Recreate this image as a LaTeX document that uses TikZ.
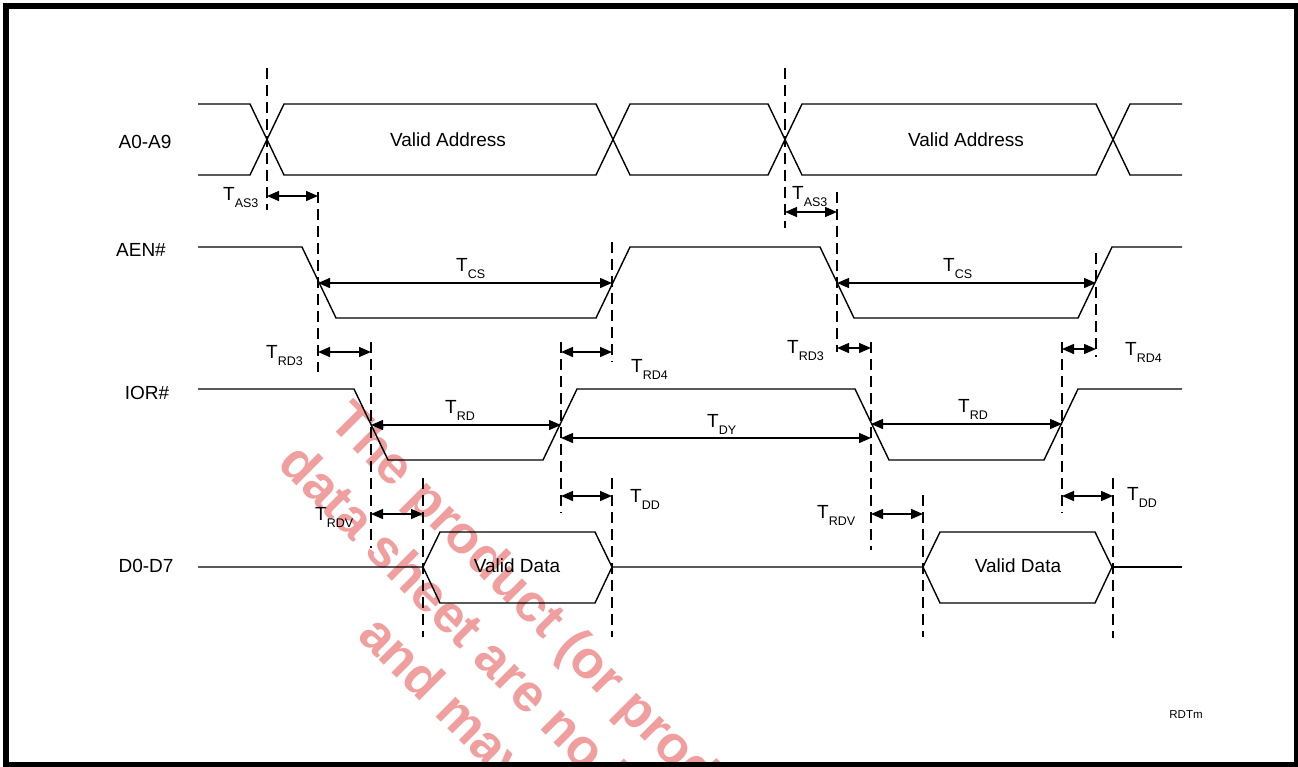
\documentclass[tikz,border=0pt]{standalone}
\usepackage{fontspec}
\setmainfont{Liberation Sans}
\usetikzlibrary{arrows.meta}
\definecolor{stamp}{RGB}{240,158,158}
\tikzset{wave/.style={draw=black, line width=1.4pt},
    guide/.style={draw=black, line width=1.3pt, dash pattern=on 11pt off 6pt},
    span/.style={line width=1.4pt, {Triangle[length=12pt,width=10pt]}-{Triangle[length=12pt,width=10pt]}},
    sig/.style={font=\fontsize{19}{19}\selectfont, inner sep=0pt},
    tlab/.style={anchor=base west, font=\fontsize{19}{19}\selectfont, inner sep=0pt},
    stampline/.style={font=\fontsize{53}{53}\selectfont\bfseries, text=stamp, rotate=-45, anchor=base west, inner sep=0pt}}
\newcommand{\tsub}[1]{T\raisebox{-7pt}{\fontsize{12.5}{12.5}\selectfont #1}}

\begin{document}
\begin{tikzpicture}[x=1pt, y=-1pt]
    \useasboundingbox (0,0) rectangle (1298,766);
    % watermark
    \begin{scope}
        \clip (0,0) rectangle (1298,766);
        \node[stampline] (wm1) at (327,423) {The product (or produc};
        \node[stampline] (wm2) at (276,465) {data sheet are no l};
        \node[stampline] (wm3) at (356,637) {and may};
    \end{scope}
    % signals
    \node[sig] (addr) at (145,142) {A0-A9};
    \node[sig] (aen) at (141,250) {AEN\#};
    \node[sig] (ior) at (147,393) {IOR\#};
    \node[sig] (data) at (146,566) {D0-D7};
    \draw[wave] (198,104) -- (250,104) -- (284,175) -- (596,175) -- (630,104) -- (768,104)
        -- (802,175) -- (1096,175) -- (1130,104) -- (1182,104);
    \draw[wave] (198,175) -- (250,175) -- (284,104) -- (596,104) -- (630,175) -- (768,175)
        -- (802,104) -- (1096,104) -- (1130,175) -- (1182,175);
    \draw[wave] (198,247) -- (302,247) -- (336,318) -- (596,318) -- (630,247) -- (820,247)
        -- (854,318) -- (1078,318) -- (1112,247) -- (1182,247);
    \draw[wave] (198,389) -- (354,389) -- (388,460) -- (543,460) -- (577,389) -- (855,389)
        -- (889,460) -- (1044,460) -- (1078,389) -- (1182,389);
    \draw[wave] (198,567) -- (423,567) -- (440,532) -- (595,532) -- (612,567) -- (595,603)
        -- (440,603) -- (423,567);
    \draw[wave] (612,567) -- (923,567) -- (940,532) -- (1095,532) -- (1112,567) -- (1095,603)
        -- (940,603) -- (923,567);
    \draw[wave] (1112,567) -- (1182,567);
    \node[sig] (va1) at (448,140) {Valid Address};
    \node[sig] (va2) at (966,140) {Valid Address};
    \node[sig] (vd1) at (517,566) {Valid Data};
    \node[sig] (vd2) at (1018,566) {Valid Data};
    % timing guides
    \foreach \x/\a/\b in {267/68/210, 318/192/372, 371/342/548, 561/342/513, 612/242/362,
        612/478/637, 423/478/637, 785/68/228, 837/192/352, 871/342/550, 1062/342/513,
        1096/253/357, 1113/478/638, 923/495/637}
        \draw[guide] (\x,\a) -- (\x,\b);
    % timing spans
    \draw[span] (267,196) -- (318,196);
    \draw[span] (785,212) -- (837,212);
    \draw[span] (318,283) -- (612,283);
    \draw[span] (837,283) -- (1096,283);
    \draw[span] (318,352) -- (371,352);
    \draw[span] (561,352) -- (612,352);
    \draw[span] (837,348) -- (871,348);
    \draw[span] (1062,349) -- (1096,349);
    \draw[span] (371,425) -- (561,425);
    \draw[span] (871,424) -- (1062,424);
    \draw[span] (561,438) -- (871,438);
    \draw[span] (561,496) -- (612,496);
    \draw[span] (1062,496) -- (1113,496);
    \draw[span] (371,514) -- (423,514);
    \draw[span] (871,514) -- (923,514);
    \node[tlab] (tas1) at (223,200) {\tsub{AS3}};
    \node[tlab] (tas2) at (792,199) {\tsub{AS3}};
    \node[tlab] (tcs1) at (456,271) {\tsub{CS}};
    \node[tlab] (tcs2) at (943,271) {\tsub{CS}};
    \node[tlab] (trd31) at (266,358) {\tsub{RD3}};
    \node[tlab] (trd32) at (787,353) {\tsub{RD3}};
    \node[tlab] (trd41) at (631,372) {\tsub{RD4}};
    \node[tlab] (trd42) at (1125,355) {\tsub{RD4}};
    \node[tlab] (trd1) at (445,413) {\tsub{RD}};
    \node[tlab] (trd2) at (958,412) {\tsub{RD}};
    \node[tlab] (tdy) at (707,427) {\tsub{DY}};
    \node[tlab] (tdd1) at (630,502) {\tsub{DD}};
    \node[tlab] (tdd2) at (1127,500) {\tsub{DD}};
    \node[tlab] (trdv1) at (315,520) {\tsub{RDV}};
    \node[tlab] (trdv2) at (817,518) {\tsub{RDV}};
    \node[font=\fontsize{11.5}{11.5}\selectfont, inner sep=0pt] (ref) at (1186,715) {RDTm};
    % frame
    \begin{scope}
        \clip (0,0) rectangle (1298,766);
        \draw[line width=6pt] (6,6) rectangle (1297,765);
    \end{scope}
\end{tikzpicture}
\end{document}
